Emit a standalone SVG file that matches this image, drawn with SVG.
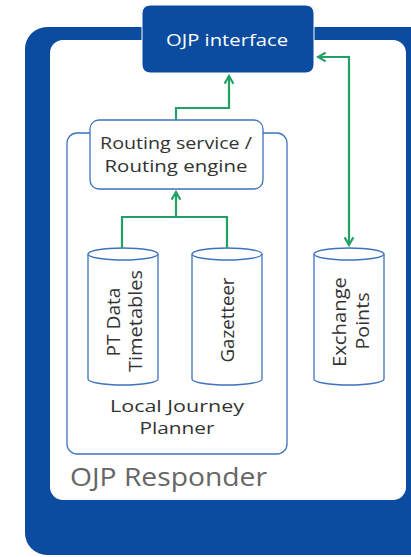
<svg xmlns="http://www.w3.org/2000/svg" width="411" height="557" viewBox="0 0 411 557">
  <style>
    .txt { font-family: "Open Sans", "Liberation Sans", sans-serif; fill: #333333; font-size: 17px; text-anchor: middle; }
    .vtxt { font-family: "Open Sans", "Liberation Sans", sans-serif; fill: #333333; font-size: 18px; text-anchor: middle; }
    .box { fill: #ffffff; stroke: #3d72c0; stroke-width: 1.3; }
    .conn { fill: none; stroke: #22a066; stroke-width: 2.2; }
  </style>
  <defs>
    <marker id="arrow" viewBox="0 0 10 10" refX="8" refY="5" markerWidth="5" markerHeight="5" orient="auto-start-reverse" markerUnits="strokeWidth">
      <path d="M1,1 L8,5 L1,9" fill="none" stroke="#22a066" stroke-width="2"/>
    </marker>
  </defs>

  <!-- OJP Responder container -->
  <g id="responder">
    <rect x="25" y="27" width="420" height="528" rx="22" fill="#0b4ba0"/>
    <rect x="50" y="40" width="356" height="460" rx="13" fill="#ffffff"/>
    <text x="70" y="486" textLength="197" lengthAdjust="spacingAndGlyphs" style="font-family: 'Open Sans', 'Liberation Sans', sans-serif; font-size: 25px; fill: #666666;">OJP Responder</text>
  </g>

  <!-- Local Journey Planner -->
  <g id="ljp">
    <rect class="box" x="67" y="133" width="220" height="321" rx="10"/>
    <text class="txt" x="177" y="412" textLength="134" lengthAdjust="spacingAndGlyphs">Local Journey</text>
    <text class="txt" x="177" y="434" textLength="75" lengthAdjust="spacingAndGlyphs">Planner</text>
  </g>

  <!-- OJP interface -->
  <g id="interface">
    <rect x="142" y="5" width="172" height="68" rx="8" fill="#0b4ba0" stroke="#ffffff" stroke-width="1"/>
    <text x="227" y="46" textLength="122" lengthAdjust="spacingAndGlyphs" style="font-family: 'Open Sans', 'Liberation Sans', sans-serif; font-size: 17px; fill: #ffffff; text-anchor: middle;">OJP interface</text>
  </g>

  <!-- Routing service -->
  <g id="routing">
    <rect class="box" x="90" y="120" width="173" height="69" rx="9"/>
    <text class="txt" x="176" y="149" textLength="152" lengthAdjust="spacingAndGlyphs">Routing service /</text>
    <text class="txt" x="176" y="172" textLength="143" lengthAdjust="spacingAndGlyphs">Routing engine</text>
  </g>

  <!-- PT Data cylinder -->
  <g id="ptdata">
    <path class="box" d="M88,254 L88,379 A35,6 0 0 0 158,379 L158,254"/>
    <ellipse class="box" cx="123" cy="254" rx="35" ry="6"/>
    <text class="vtxt" transform="translate(120,322) rotate(-90)" textLength="69" lengthAdjust="spacingAndGlyphs">PT Data</text>
    <text class="vtxt" transform="translate(142,321) rotate(-90)" textLength="102" lengthAdjust="spacingAndGlyphs">Timetables</text>
  </g>

  <!-- Gazetteer cylinder -->
  <g id="gazetteer">
    <path class="box" d="M192,254 L192,379 A35,6 0 0 0 262,379 L262,254"/>
    <ellipse class="box" cx="227" cy="254" rx="35" ry="6"/>
    <text class="vtxt" transform="translate(234,320) rotate(-90)" textLength="85" lengthAdjust="spacingAndGlyphs">Gazetteer</text>
  </g>

  <!-- Exchange Points cylinder -->
  <g id="exchange">
    <path class="box" d="M314,254 L314,379 A35,6 0 0 0 384,379 L384,254"/>
    <ellipse class="box" cx="349" cy="254" rx="35" ry="6"/>
    <text class="vtxt" transform="translate(346,322) rotate(-90)" textLength="90" lengthAdjust="spacingAndGlyphs">Exchange</text>
    <text class="vtxt" transform="translate(369,321) rotate(-90)" textLength="57" lengthAdjust="spacingAndGlyphs">Points</text>
  </g>

  <!-- Connectors -->
  <g id="connectors">
    <path class="conn" d="M122,248 L122,217 L227,217 L227,248"/>
    <path class="conn" d="M176,217 L176,192" marker-end="url(#arrow)"/>
    <path class="conn" d="M176,120 L176,108 L229,108 L229,76" marker-end="url(#arrow)"/>
    <path class="conn" d="M318,57 L349,57 L349,245" marker-start="url(#arrow)" marker-end="url(#arrow)"/>
  </g>
</svg>
